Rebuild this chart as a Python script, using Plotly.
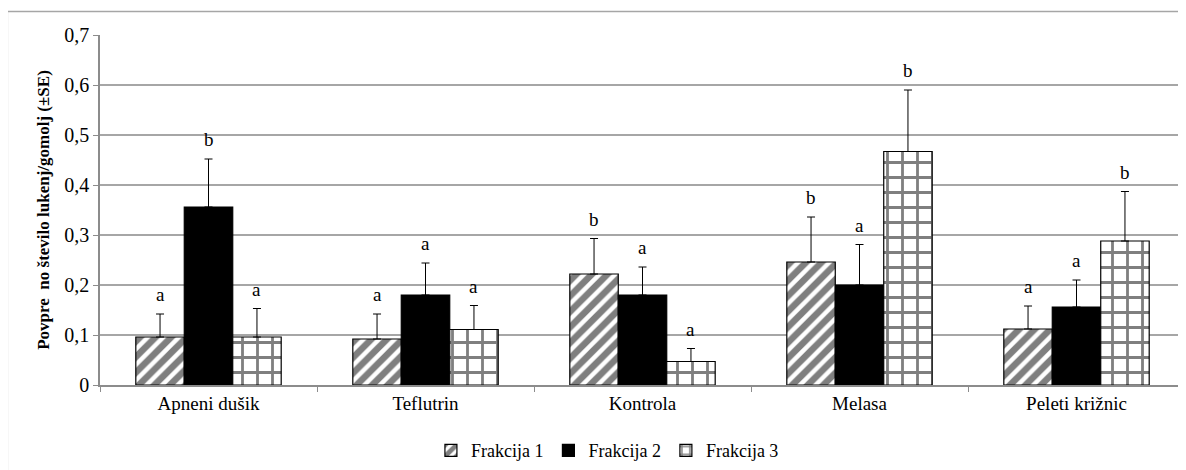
import plotly.graph_objects as go

categories = ["Apneni dušik", "Teflutrin", "Kontrola", "Melasa", "Peleti križnic"]
series_names = ["Frakcija 1", "Frakcija 2", "Frakcija 3"]
frak1 = [0.096, 0.092, 0.222, 0.246, 0.112]
frak2 = [0.356, 0.180, 0.180, 0.200, 0.156]
frak3 = [0.096, 0.111, 0.047, 0.467, 0.288]
se1 = [0.046, 0.050, 0.071, 0.090, 0.046]
se2 = [0.096, 0.064, 0.056, 0.081, 0.054]
se3 = [0.057, 0.048, 0.026, 0.123, 0.099]
letters1 = ["a", "a", "b", "b", "a"]
letters2 = ["b", "a", "a", "a", "a"]
letters3 = ["a", "a", "a", "b", "b"]
tick_vals = [0, 0.1, 0.2, 0.3, 0.4, 0.5, 0.6, 0.7]
tick_text = ["0", "0,1", "0,2", "0,3", "0,4", "0,5", "0,6", "0,7"]
y_title = "Povpre  no število lukenj/gomolj (±SE)"

FONT = "Liberation Serif, Times New Roman, serif"

styles = [
    dict(color="white", pattern=dict(shape="/", fgcolor="black", bgcolor="white", size=11, solidity=0.6)),
    dict(color="black"),
    dict(color="white", pattern=dict(shape="+", fgcolor="black", bgcolor="white", size=15, solidity=0.34)),
]

fig = go.Figure()
vals = [frak1, frak2, frak3]
ses = [se1, se2, se3]
for name, v, se, st in zip(series_names, vals, ses, styles):
    fig.add_trace(go.Bar(
        x=categories, y=v, name=name,
        marker=dict(line=dict(color="black", width=1.2), **st),
        error_y=dict(type="data", symmetric=False, array=se, arrayminus=[0] * len(se),
                     color="black", thickness=1, width=4),
    ))

n = len(series_names)
bar_w = (1 - 0.33) / n
for si, (v, se, lets) in enumerate(zip(vals, ses, [letters1, letters2, letters3])):
    for ci, cat in enumerate(categories):
        fig.add_annotation(
            x=ci + (si - 1) * bar_w, y=v[ci] + se[ci], xref="x", yref="y",
            text=lets[ci], showarrow=False, yanchor="bottom", yshift=7,
            font=dict(family=FONT, size=19, color="black"),
        )

fig.add_shape(type="rect", xref="paper", yref="paper",
              x0=-0.0854, x1=1.05, y0=-0.5, y1=1.0669,
              line=dict(color="#a6a6a6", width=1.5), layer="below")

fig.update_layout(
    width=1178, height=462,
    margin=dict(l=92, r=1, t=27, b=83),
    paper_bgcolor="white", plot_bgcolor="white",
    barmode="group", bargap=0.33, bargroupgap=0,
    font=dict(family=FONT, color="black"),
    showlegend=True,
    legend=dict(orientation="h", x=0.305, xanchor="left", y=-0.135, yanchor="top",
                font=dict(family=FONT, size=18, color="black"),
                itemwidth=30, traceorder="normal"),
    xaxis=dict(
        type="category", showline=True, linecolor="#8c8c8c", linewidth=1.5,
        ticks="outside", tickson="boundaries", ticklen=5, tickcolor="#8c8c8c",
        tickfont=dict(family=FONT, size=19, color="black"),
        showgrid=False, range=[-0.5, 4.5],
    ),
    yaxis=dict(
        range=[0, 0.7], tickvals=tick_vals, ticktext=tick_text,
        showline=True, linecolor="#8c8c8c", linewidth=1.5,
        ticks="outside", ticklen=5, tickcolor="#8c8c8c",
        showgrid=True, gridcolor="#a6a6a6", gridwidth=1.5,
        tickfont=dict(family=FONT, size=20, color="black"),
        title=dict(text="<b>" + y_title + "</b>", font=dict(family=FONT, size=17, color="black"), standoff=10),
        zeroline=False,
    ),
)

fig.write_html("out.html")
